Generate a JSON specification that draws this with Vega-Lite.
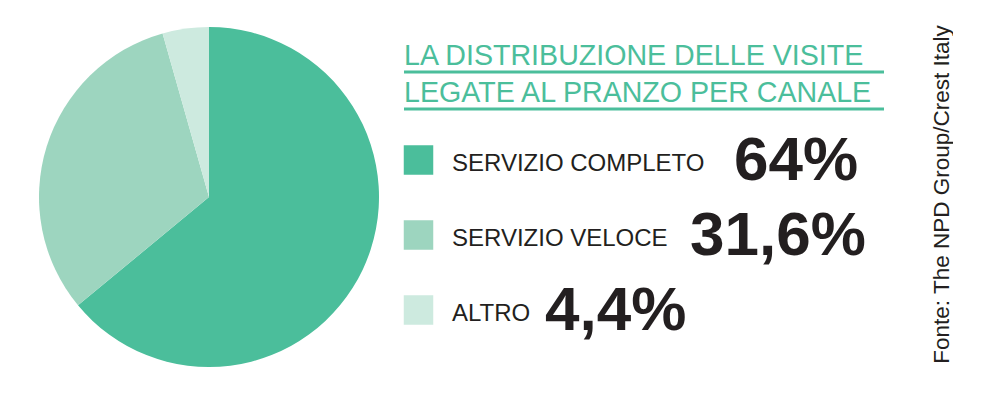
{
  "$schema": "https://vega.github.io/schema/vega-lite/v6.json",
  "background": "white",
  "padding": {"left": 39, "top": 24, "right": 0, "bottom": 0},
  "config": {"view": {"stroke": null}, "font": "Liberation Sans"},
  "datasets": {
    "canali": [
      {"canale": "SERVIZIO COMPLETO", "valore": 64, "etichetta": "64%"},
      {"canale": "SERVIZIO VELOCE", "valore": 31.6, "etichetta": "31,6%"},
      {"canale": "ALTRO", "valore": 4.4, "etichetta": "4,4%"}
    ],
    "titolo": [
      {"riga": "LA DISTRIBUZIONE DELLE VISITE"},
      {"riga": "LEGATE AL PRANZO PER CANALE"}
    ]
  },
  "spacing": 23,
  "hconcat": [
    {
      "data": {"name": "canali"},
      "width": 340,
      "height": 340,
      "mark": {"type": "arc", "strokeWidth": 0},
      "encoding": {
        "theta": {"field": "valore", "type": "quantitative", "stack": true},
        "order": {"field": "valore", "type": "quantitative", "sort": "descending"},
        "color": {
          "field": "canale",
          "type": "nominal",
          "scale": {"domain": ["SERVIZIO COMPLETO", "SERVIZIO VELOCE", "ALTRO"], "range": ["#4BBE9B", "#9DD5BF", "#CDEADF"]},
          "legend": null
        }
      }
    },
    {
      "width": 480,
      "height": 340,
      "resolve": {"scale": {"y": "independent", "x": "independent"}, "axis": {"y": "independent"}},
      "layer": [
        {
          "data": {"name": "titolo"},
          "encoding": {
            "y": {
              "field": "riga",
              "type": "nominal",
              "scale": {"type": "point", "domain": ["LA DISTRIBUZIONE DELLE VISITE", "LEGATE AL PRANZO PER CANALE"], "range": [38, 75], "padding": 0},
              "axis": null
            }
          },
          "layer": [
            {
              "mark": {"type": "text", "align": "left", "baseline": "alphabetic", "fontSize": 28.6, "color": "#4BBE9B"},
              "encoding": {"x": {"value": 0}, "text": {"field": "riga"}}
            },
            {
              "mark": {"type": "rule", "color": "#4BBE9B", "strokeWidth": 3, "yOffset": 7},
              "encoding": {}
            }
          ]
        },
        {
          "data": {"name": "canali"},
          "encoding": {
            "y": {
              "field": "canale",
              "type": "nominal",
              "scale": {"type": "point", "domain": ["SERVIZIO COMPLETO", "SERVIZIO VELOCE", "ALTRO"], "range": [133, 283], "padding": 0},
              "axis": {
                "orient": "right",
                "title": "Fonte: The NPD Group/Crest Italy",
                "labels": false,
                "ticks": false,
                "domain": false,
                "grid": false,
                "titleAngle": 270,
                "titleBaseline": "top",
                "titleAlign": "center",
                "titleY": 167,
                "titleFontSize": 22.5,
                "titleFontWeight": "normal",
                "titleColor": "#231F20",
                "titlePadding": 46
              }
            }
          },
          "layer": [
            {
              "mark": {"type": "square", "size": 870, "opacity": 1, "filled": true},
              "encoding": {
                "x": {"value": 14.5},
                "color": {"field": "canale", "type": "nominal", "legend": null}
              }
            },
            {
              "mark": {"type": "text", "align": "left", "baseline": "alphabetic", "fontSize": 24, "dy": 11, "color": "#231F20"},
              "encoding": {"x": {"value": 48}, "text": {"field": "canale"}}
            },
            {
              "mark": {"type": "text", "align": "left", "baseline": "alphabetic", "fontSize": 62, "fontWeight": "bold", "dy": 20, "color": "#231F20"},
              "encoding": {
                "x": {"field": "valore", "type": "quantitative", "scale": {"domain": [4.4, 31.6, 64], "range": [141, 286, 330], "nice": false, "zero": false}, "axis": null},
                "text": {"field": "etichetta"}
              }
            }
          ]
        }
      ]
    }
  ]
}
